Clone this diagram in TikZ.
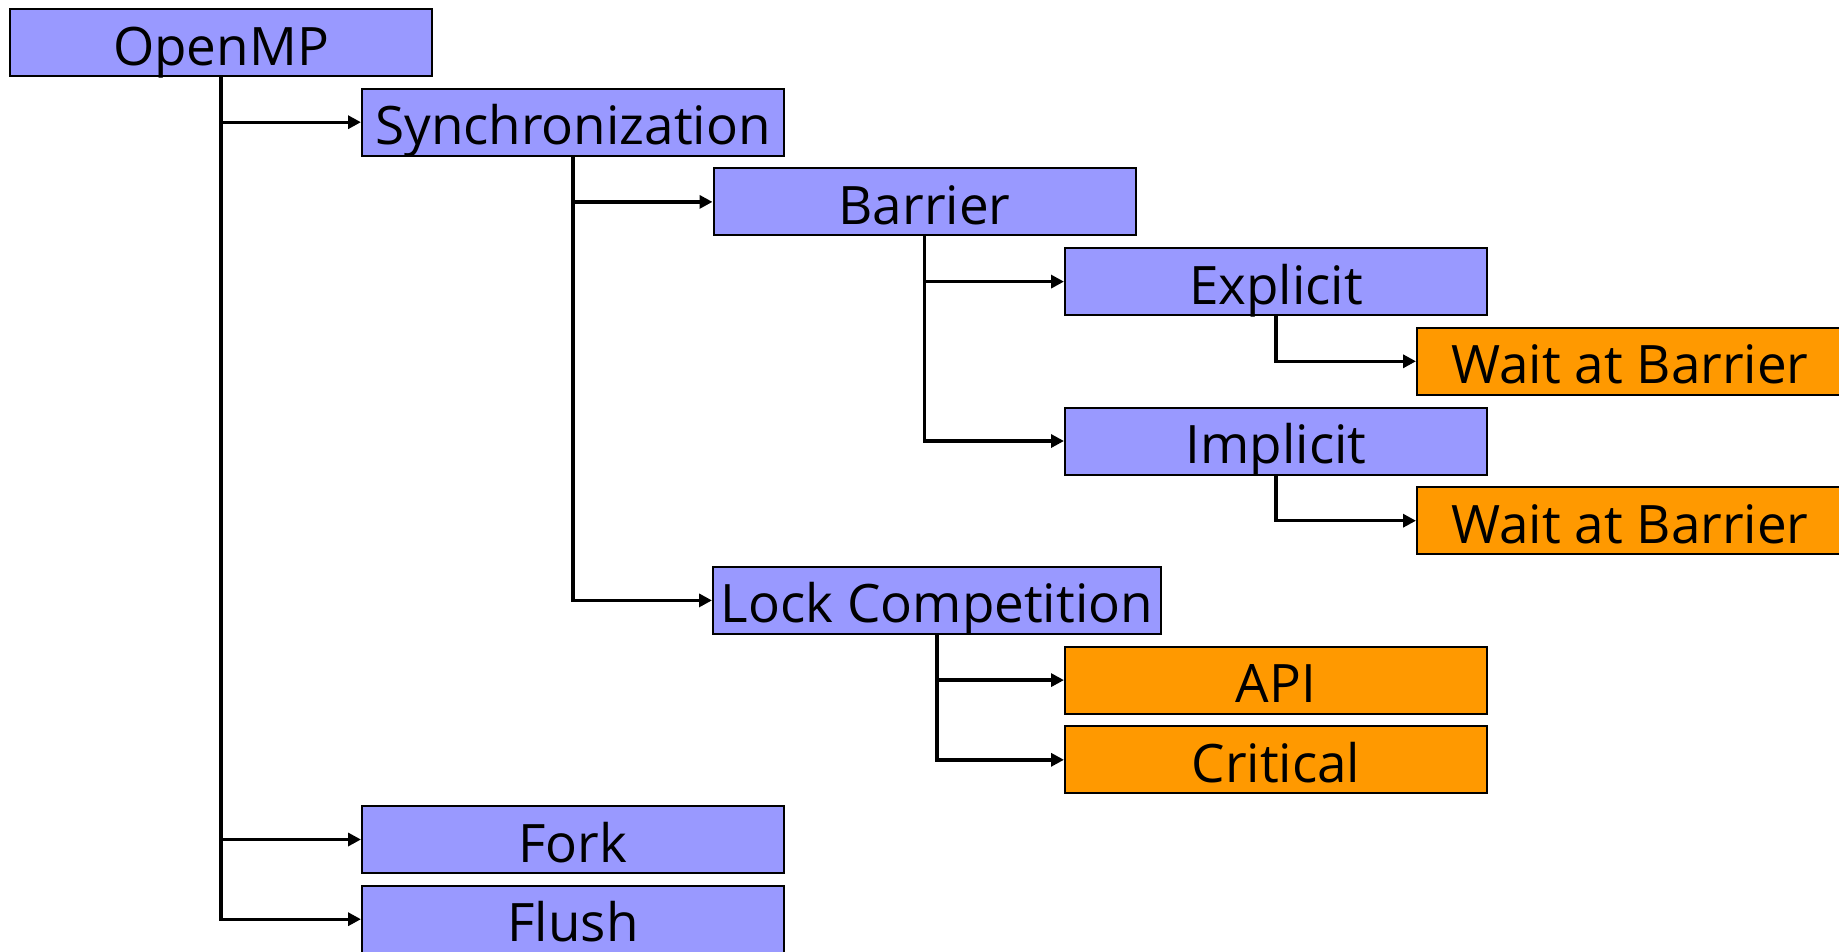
\documentclass[tikz,border=0pt]{standalone}
\usepackage{fontspec}
\setmainfont{Open Sans}
\usetikzlibrary{arrows.meta}
\definecolor{boxblue}{HTML}{9999FF}
\definecolor{boxorange}{HTML}{FF9900}
\tikzset{
  item/.style={draw=black, line width=2pt, inner sep=0pt,
    minimum width=422pt, text height=56pt, text depth=11pt,
    font=\fontsize{53}{60}\selectfont, fill=boxblue},
  leaf/.style={item, fill=boxorange},
  conn/.style={line width=3.4pt, -{Triangle[length=13pt,width=13pt]}},
}
\begin{document}
\begin{tikzpicture}[x=1pt, y=-1pt]
  \useasboundingbox (0,0) rectangle (1839,951);
  \clip (0,0) rectangle (1839,951);

  % tree nodes
  \node[item] (omp)  at (221,42.5)    {OpenMP};
  \node[item] (sync) at (573,122.2)   {Synchronization};
  \node[item] (bar)  at (924.5,201.9) {Barrier};
  \node[item] (expl) at (1276,281.6)  {Explicit};
  \node[leaf, minimum width=426pt] (wait1) at (1630,361.3) {Wait at Barrier};
  \node[item] (impl) at (1276,441)    {Implicit};
  \node[leaf, minimum width=426pt] (wait2) at (1630,520.7) {Wait at Barrier};
  \node[item, minimum width=448pt] (lock) at (937,600.4) {Lock Competition};
  \node[leaf] (api)  at (1276,680.1)  {API};
  \node[leaf] (crit) at (1276,759.8)  {Critical};
  \node[item] (fork) at (573,839.5)   {Fork};
  \node[item] (flush) at (573,919.2)  {Flush};

  % connectors
  \draw[conn] (omp.south)  |- (sync.west);
  \draw[conn] (omp.south)  |- (fork.west);
  \draw[conn] (omp.south)  |- (flush.west);
  \draw[conn] (sync.south) |- (bar.west);
  \draw[conn] (sync.south) |- (lock.west);
  \draw[conn] (bar.south)  |- (expl.west);
  \draw[conn] (bar.south)  |- (impl.west);
  \draw[conn] (expl.south) |- (wait1.west);
  \draw[conn] (impl.south) |- (wait2.west);
  \draw[conn] (lock.south) |- (api.west);
  \draw[conn] (lock.south) |- (crit.west);
\end{tikzpicture}
\end{document}
